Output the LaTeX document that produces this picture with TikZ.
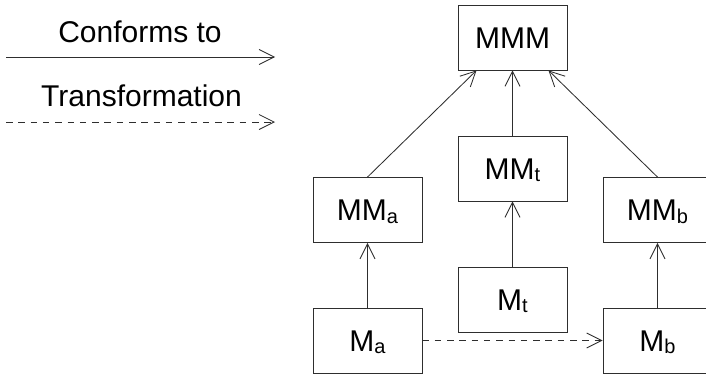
\documentclass[tikz,border=0pt]{standalone}
\usepackage{fontspec}
\setmainfont{Liberation Sans}
\usetikzlibrary{arrows.meta,calc}
\newcommand{\lowsub}[1]{\raisebox{-2.5pt}{\fontsize{20}{20}\selectfont #1}}
\tikzset{
  ink/.style={draw=black!82, line width=0.85pt},
  model/.style={ink, rectangle, minimum width=109pt, minimum height=65pt,
    inner sep=0pt, text height=21.5pt, text depth=0pt,
    font=\fontsize{30}{34}\selectfont},
  legendtext/.style={anchor=base, inner sep=0pt, font=\fontsize{30}{34}\selectfont},
  conforms/.style={ink, -{Straight Barb[length=15pt,width=15pt,line width=0.85pt]}},
  transform/.style={conforms, dash pattern=on 6.5pt off 5.8pt},
}
\begin{document}
\begin{tikzpicture}[x=1pt, y=-1pt]
  \useasboundingbox (0,0) rectangle (706,375);
  \clip (0,0) rectangle (706,375);

  % legend
  \node[legendtext] (lconf) at (140,42) {Conforms to};
  \coordinate (c1) at (6,57);
  \coordinate (c2) at (275,57);
  \draw[conforms] (c1) -- (c2);
  \node[legendtext] (ltrans) at (141.5,106) {Transformation};
  \coordinate (t1) at (6,122);
  \coordinate (t2) at (275,122);
  \draw[transform] (t1) -- (t2);

  % models
  \node[model] (MMM) at (512.5,37.5) {MMM};
  \node[model] (MMt) at (512.5,168.5) {MM\lowsub{t}};
  \node[model] (MMa) at (367.5,210) {MM\lowsub{a}};
  \node[model] (MMb) at (657.5,210) {MM\lowsub{b}};
  \node[model] (Mt)  at (512.5,299.5) {M\lowsub{t}};
  \node[model] (Ma)  at (367.5,340.5) {M\lowsub{a}};
  \node[model] (Mb)  at (657.5,340.5) {M\lowsub{b}};

  % conformance
  \draw[conforms] (MMa.north) -- ([xshift=-36pt]MMM.south);
  \draw[conforms] (MMb.north) -- ([xshift=36pt]MMM.south);
  \draw[conforms] (MMt.north) -- (MMM.south);
  \draw[conforms] (Mt.north) -- (MMt.south);
  \draw[conforms] (Ma.north) -- (MMa.south);
  \draw[conforms] (Mb.north) -- (MMb.south);

  % transformation
  \draw[transform] (Ma.east) -- (Mb.west);
\end{tikzpicture}
\end{document}
